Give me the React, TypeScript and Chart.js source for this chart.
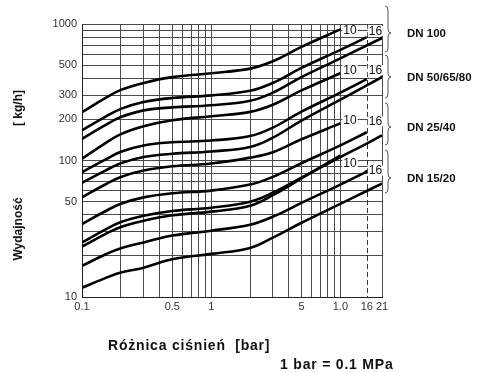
import React, { useEffect, useRef } from 'react';
import { Chart, registerables } from 'chart.js';

Chart.register(...registerables);

// pressure difference [bar] at which the curves are sampled
const PRESSURE = [0.1, 0.15, 0.2, 0.3, 0.5, 1, 2, 3, 5, 10, 16, 21];

// capacity [kg/h]; each curve ends at 10, 16 or 21 bar
const DN100_A = [226, 285, 329, 370, 408, 436, 471, 533, 680, 914];
const DN100_B = [166, 208, 239, 268, 287, 300, 324, 370, 477, 646, 802];
const DN100_C = [144, 181, 208, 233, 245, 254, 274, 314, 408, 560, 696, 789];
const DN50_A = [103, 133, 156, 178, 197, 211, 227, 256, 326, 436];
const DN50_B = [82, 101, 116, 129, 136, 140, 151, 174, 228, 314, 394];
const DN50_C = [68.5, 84, 95.4, 106, 112, 116.5, 125.7, 147, 196, 279, 355, 408];
const DN25_A = [53.7, 66.4, 75.7, 84.4, 90.7, 95, 105, 115, 143, 187];
const DN25_B = [34.2, 42.3, 48.2, 53.7, 57.5, 60.2, 66.6, 75.9, 95.5, 129, 161];
const DN25_C = [25.1, 31, 35.4, 39.4, 42.7, 45.1, 49.9, 58.1, 74.9, 106, 133, 153];
const DN15_A = [23.4, 28.8, 32.6, 36.2, 39.7, 42.2, 46.7, 55.7, 74, 109];
const DN15_B = [16.9, 20.4, 22.8, 25.1, 28.2, 30.6, 33.8, 38.7, 48.9, 66.6, 83];
const DN15_C = [11.7, 13.7, 15.1, 16.4, 18.9, 20.7, 22.9, 27.2, 35, 48.1, 59.8, 67.7];

const SERIES = [DN100_A, DN100_B, DN100_C, DN50_A, DN50_B, DN50_C, DN25_A, DN25_B, DN25_C, DN15_A, DN15_B, DN15_C];
// curves whose end is marked with a dot
const END_DOT = [false, false, true, false, false, true, false, false, false, false, true, false];

const GROUP_LABELS = ['DN 100', 'DN 50/65/80', 'DN 25/40', 'DN 15/20'];
// end-of-curve labels "10" and "16" (anchored at these capacities)
const LABEL_10_AT = [903, 459, 197, 95];
const LABEL_16_AT = [888, 459, 194, 84.4];

const X_TICKS = [0.1, 0.5, 1, 5, 10, 16, 21];
const X_TICK_LABELS = ['0.1', '0.5', '1', '5', '1.0', '16', '21'];
const X_GRID = [0.1, 0.2, 0.3, 0.4, 0.5, 0.6, 0.7, 0.8, 0.9, 1, 2, 3, 4, 5, 6, 7, 8, 9, 10, 16, 21];
const Y_TICKS = [10, 50, 100, 200, 300, 500, 1000];
const Y_GRID = [10, 20, 30, 40, 50, 60, 70, 80, 90, 100, 200, 300, 400, 500, 600, 700, 800, 900, 1000];

const FONT = "'Liberation Sans', Arial, Helvetica, sans-serif";

const near = (a: number, b: number) => Math.abs(a - b) / b < 1e-6;

const annotationPlugin = {
  id: 'annotationPlugin',
  beforeDatasetsDraw(chart: any) {
    const { ctx, chartArea, scales } = chart;
    const x16 = Math.round(scales.x.getPixelForValue(16)) + 0.5;
    ctx.save();
    ctx.strokeStyle = '#333';
    ctx.lineWidth = 1;
    ctx.setLineDash([5, 3]);
    ctx.beginPath();
    ctx.moveTo(x16, chartArea.top);
    ctx.lineTo(x16, chartArea.bottom);
    ctx.stroke();
    ctx.restore();
  },
  afterDraw(chart: any) {
    const { ctx, scales } = chart;
    const xs = scales.x;
    const ys = scales.y;
    ctx.save();
    // curve-end labels
    ctx.font = `12px ${FONT}`;
    ctx.textBaseline = 'middle';
    ctx.textAlign = 'left';
    const drawTag = (text: string, x: number, y: number) => {
      const w = ctx.measureText(text).width;
      ctx.fillStyle = '#fff';
      ctx.fillRect(x - 1, y - 5, w + 2, 10);
      ctx.fillStyle = '#111';
      ctx.fillText(text, x, y + 0.5);
    };
    for (let i = 0; i < 4; i++) {
      drawTag('10', xs.getPixelForValue(10) + 3, ys.getPixelForValue(LABEL_10_AT[i]));
      drawTag('16', xs.getPixelForValue(16) + 2, ys.getPixelForValue(LABEL_16_AT[i]));
    }
    // braces and group labels
    const braces = [
      [6, 52, 33],
      [55, 98, 77],
      [103, 145, 127],
      [150, 193, 178],
    ];
    ctx.strokeStyle = '#555';
    ctx.lineWidth = 1;
    braces.forEach(([top, bot, tip], i) => {
      const x0 = 385;
      const xm = x0 + 3;
      const xt = x0 + 6;
      ctx.beginPath();
      ctx.moveTo(x0, top);
      ctx.quadraticCurveTo(xm, top, xm, top + 4);
      ctx.lineTo(xm, tip - 4);
      ctx.quadraticCurveTo(xm, tip, xt, tip);
      ctx.quadraticCurveTo(xm, tip, xm, tip + 4);
      ctx.lineTo(xm, bot - 4);
      ctx.quadraticCurveTo(xm, bot, x0, bot);
      ctx.stroke();
      ctx.fillStyle = '#111';
      ctx.font = `bold 11.5px ${FONT}`;
      ctx.textAlign = 'left';
      ctx.textBaseline = 'middle';
      ctx.fillText(GROUP_LABELS[i], 407, tip + 0.5);
    });
    // axis titles
    ctx.fillStyle = '#111';
    ctx.font = `bold 12px ${FONT}`;
    ctx.textAlign = 'center';
    ctx.textBaseline = 'middle';
    ctx.save();
    ctx.translate(19, 108);
    ctx.rotate(-Math.PI / 2);
    ctx.fillText('[ kg/h]', 0, 0);
    ctx.restore();
    ctx.save();
    ctx.translate(19, 229);
    ctx.rotate(-Math.PI / 2);
    ctx.fillText('Wydajność', 0, 0);
    ctx.restore();

    ctx.font = `bold 14px ${FONT}`;
    ctx.textAlign = 'left';
    (ctx as any).letterSpacing = '0.8px';
    ctx.fillText('Różnica ciśnień  [bar]', 108, 346);
    ctx.fillText('1 bar = 0.1 MPa', 280, 365);
    ctx.restore();
  },
};

export default function App() {
  const ref = useRef<HTMLCanvasElement | null>(null);
  useEffect(() => {
    if (!ref.current) return;
    const datasets = SERIES.map((vals, k) => ({
      data: vals.map((v, i) => ({ x: PRESSURE[i], y: v })),
      borderColor: '#000',
      backgroundColor: '#000',
      borderWidth: 2.6,
      pointRadius: vals.map((_, i) => (END_DOT[k] && i === vals.length - 1 ? 1.8 : 0)),
      pointBorderWidth: 0,
      fill: false,
      tension: 0.4,
    }));
    const gridColor = (c: any) =>
      c.tick && near(c.tick.value, 16) ? 'rgba(0,0,0,0)' : '#4a4a4a';
    const chart = new Chart(ref.current, {
      type: 'line',
      data: { datasets },
      plugins: [annotationPlugin],
      options: {
        animation: false,
        responsive: false,
        layout: { padding: { top: 24, right: 95, left: 0, bottom: 0 } },
        plugins: { legend: { display: false }, tooltip: { enabled: false } },
        scales: {
          x: {
            type: 'logarithmic',
            min: 0.1,
            max: 21,
            afterBuildTicks: (s: any) => {
              s.ticks = X_GRID.map((v) => ({ value: v }));
            },
            afterFit: (s: any) => {
              s.height = 75;
            },
            grid: { color: gridColor, lineWidth: 1, drawTicks: false },
            border: { display: true, color: '#222', width: 1 },
            ticks: {
              autoSkip: false,
              maxRotation: 0,
              padding: 3,
              color: '#333',
              font: { family: FONT, size: 11 },
              callback: (value: any) => {
                const i = X_TICKS.findIndex((t) => near(Number(value), t));
                return i >= 0 ? X_TICK_LABELS[i] : '';
              },
            },
          },
          y: {
            type: 'logarithmic',
            min: 10,
            max: 1000,
            afterBuildTicks: (s: any) => {
              s.ticks = Y_GRID.map((v) => ({ value: v }));
            },
            afterFit: (s: any) => {
              s.width = 82;
            },
            grid: { color: '#4a4a4a', lineWidth: 1, drawTicks: false },
            border: { display: true, color: '#222', width: 1 },
            ticks: {
              autoSkip: false,
              padding: 5,
              color: '#333',
              font: { family: FONT, size: 11 },
              callback: (value: any) => {
                const i = Y_TICKS.findIndex((t) => near(Number(value), t));
                return i >= 0 ? String(Y_TICKS[i]) : '';
              },
            },
          },
        },
      },
    });
    return () => chart.destroy();
  }, []);
  return (
    <div style={{ position: 'fixed', left: 0, top: 0, width: 477, height: 372, background: '#fff' }}>
      <canvas ref={ref} width={477} height={372} style={{ width: 477, height: 372, display: 'block' }} />
    </div>
  );
}
